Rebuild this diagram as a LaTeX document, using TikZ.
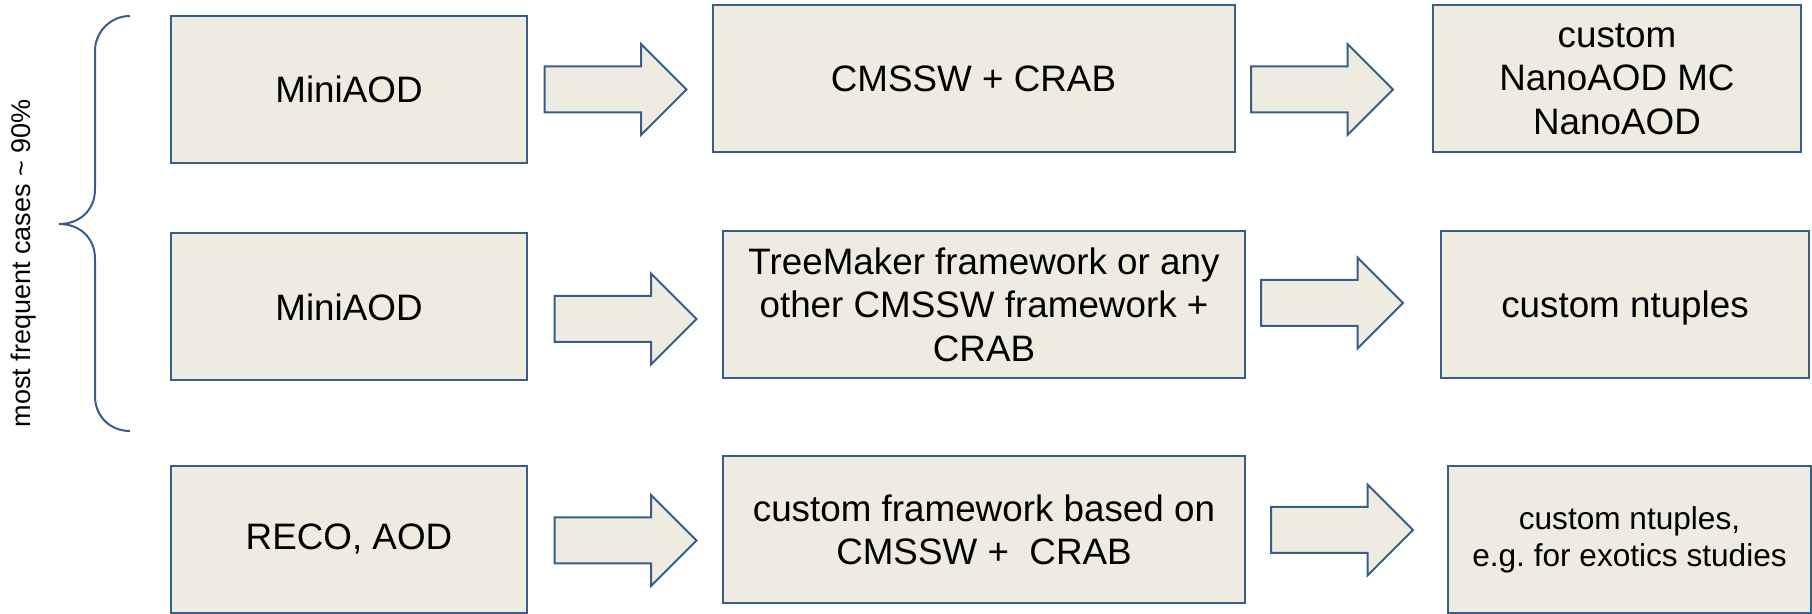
\documentclass[tikz,border=0pt]{standalone}
\usepackage{fontspec}
\setmainfont{Liberation Sans}
\usetikzlibrary{shapes.arrows}
\definecolor{boxfill}{HTML}{EEECE1}
\definecolor{boxline}{HTML}{385D8A}
\begin{document}
\begin{tikzpicture}[
        x = 0.5pt,
        y = -0.5pt,
        line width = 1pt,
        stagebox/.style = {draw = boxline, fill = boxfill, rectangle, inner sep = 0pt, minimum height = 73.5pt, align = center, font = \fontsize{18.4}{21.8}\selectfont},
        inbox/.style = {stagebox, minimum width = 178pt},
        procbox/.style = {stagebox, minimum width = 261pt},
        outbox/.style = {stagebox, minimum width = 184pt},
        flowarrow/.style = {draw = boxline, fill = boxfill, single arrow, single arrow head extend = 11.25pt, minimum height = 71pt, inner xsep = 0pt, inner ysep = 11pt}
    ]
    \useasboundingbox (0,0) rectangle (1812,614);
    \node[inbox] (mini1) at (349,89.5) {MiniAOD};
    \node[inbox] (mini2) at (349,307) {MiniAOD};
    \node[inbox] (reco) at (349,539.5) {RECO, AOD};
    \node[procbox] (crab) at (973.5,79) {CMSSW + CRAB};
    \node[procbox] (treemaker) at (984,304.5) {TreeMaker framework or any\\other CMSSW framework +\\CRAB};
    \node[procbox] (customfw) at (984,530) {custom framework based on\\CMSSW +\ \ CRAB};
    \node[outbox] (nano) at (1617,79) {custom\\NanoAOD MC\\NanoAOD};
    \node[outbox, text depth = 0pt] (ntuples) at (1625,304.5) {custom ntuples};
    \node[outbox, minimum width = 181.5pt, font = \fontsize{15.8}{18.6}\selectfont] (exotics) at (1629.5,539.5) {custom ntuples,\\e.g.\ for exotics studies};
    \node[flowarrow] (a11) at (604,89.5) {};
    \node[flowarrow] (a12) at (1310.5,89.5) {};
    \node[flowarrow] (a21) at (614,319) {};
    \node[flowarrow] (a22) at (1320.5,303) {};
    \node[flowarrow] (a31) at (614,540.5) {};
    \node[flowarrow] (a32) at (1330.5,530) {};
    \draw[draw = boxline] (130,16) .. controls (110.7,16) and (95,31.7) .. (95,51) -- (95,189) .. controls (95,210) and (80,224) .. (59,224) .. controls (80,224) and (95,238) .. (95,259) -- (95,396) .. controls (95,417) and (110.7,431) .. (130,431);
    \node[rotate = 90, font = \fontsize{13.5}{16}\selectfont] (share) at (24,263.5) {most frequent cases \textasciitilde\ 90\%};
\end{tikzpicture}
\end{document}
